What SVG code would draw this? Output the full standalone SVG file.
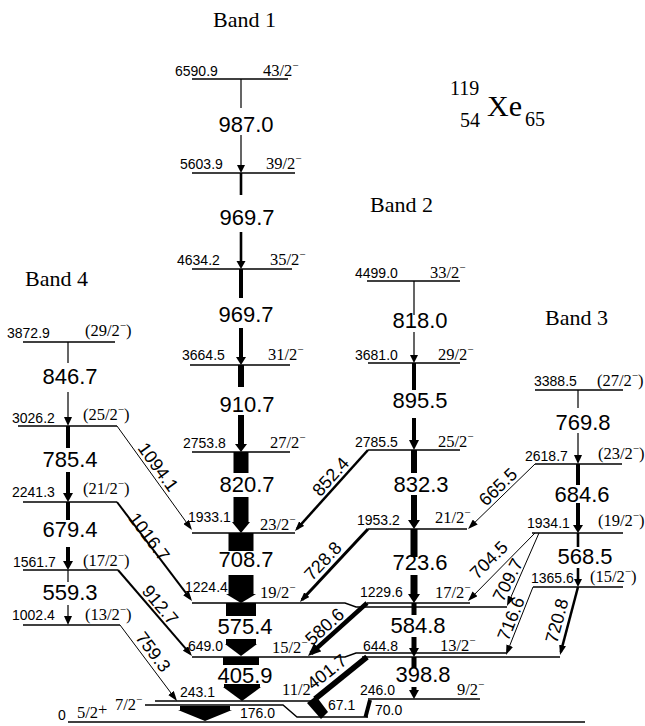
<svg xmlns="http://www.w3.org/2000/svg" width="645" height="726" viewBox="0 0 645 726">
<style>
.lv{stroke:#000;stroke-width:1.4;fill:none}
.tl{stroke:#000;fill:none}
.b{fill:#000}
.en{font-family:"Liberation Sans",Arial,sans-serif;font-size:14px;fill:#000}
.sp{font-family:"Liberation Serif","Times New Roman",serif;font-size:16.5px;fill:#000}
.m{font-size:11px}
.tr{font-family:"Liberation Sans",Arial,sans-serif;font-size:22px;fill:#000;text-anchor:middle}
.rl{font-family:"Liberation Sans",Arial,sans-serif;font-size:18px;fill:#000;text-anchor:middle}
.band{font-family:"Liberation Serif","Times New Roman",serif;font-size:22px;fill:#000}
.iso{font-family:"Liberation Serif","Times New Roman",serif;fill:#000}
</style>
<defs>
<marker id="ah" markerUnits="userSpaceOnUse" markerWidth="10" markerHeight="7" refX="7" refY="3.5" orient="auto"><path d="M0,0 L10,3.5 L0,7 z" fill="#000"/></marker>
<marker id="ahL" markerUnits="userSpaceOnUse" markerWidth="13" markerHeight="11" refX="9" refY="5.5" orient="auto"><path d="M0,0 L13,5.5 L0,11 z" fill="#000"/></marker>
</defs>
<rect width="645" height="726" fill="#fff"/>

<!-- titles -->
<text class="band" x="213" y="27">Band 1</text>
<text class="band" x="370" y="212">Band 2</text>
<text class="band" x="545" y="325">Band 3</text>
<text class="band" x="25" y="286">Band 4</text>
<g id="nucleus">
<text class="iso" x="450" y="95" font-size="20">119</text>
<text class="iso" x="460" y="127" font-size="20">54</text>
<text class="iso" x="487" y="116" font-size="30">Xe</text>
<text class="iso" x="525" y="126" font-size="20">65</text>
</g>

<!-- Band 1 levels -->
<g id="L6590"><line class="lv" x1="192" y1="79" x2="288" y2="79"/><text class="en" x="175" y="76">6590.9</text><text class="sp" x="263" y="76">43/2<tspan class="m" dy="-7">−</tspan></text></g>
<g id="L5603"><line class="lv" x1="192" y1="173" x2="295" y2="173"/><text class="en" x="180" y="169">5603.9</text><text class="sp" x="266" y="169">39/2<tspan class="m" dy="-7">−</tspan></text></g>
<g id="L4634"><line class="lv" x1="192" y1="269" x2="292" y2="269"/><text class="en" x="177" y="265">4634.2</text><text class="sp" x="270" y="265">35/2<tspan class="m" dy="-7">−</tspan></text></g>
<g id="L3664"><line class="lv" x1="190" y1="365" x2="290" y2="365"/><text class="en" x="182" y="360">3664.5</text><text class="sp" x="268" y="360">31/2<tspan class="m" dy="-7">−</tspan></text></g>
<g id="L2753"><line class="lv" x1="192" y1="452" x2="290" y2="452"/><text class="en" x="183" y="448">2753.8</text><text class="sp" x="270" y="448">27/2<tspan class="m" dy="-7">−</tspan></text></g>
<g id="L1933"><line class="lv" x1="192" y1="533" x2="295" y2="533"/><text class="en" x="188" y="522">1933.1</text><text class="sp" x="260" y="530">23/2<tspan class="m" dy="-7">−</tspan></text></g>
<g id="L1224"><polyline class="lv" points="192,603 345,603 356,607 507,607"/><text class="en" x="185" y="592">1224.4</text><text class="sp" x="260" y="598">19/2<tspan class="m" dy="-7">−</tspan></text></g>
<g id="L649"><polyline class="lv" points="192,657 345,657 356,653 506,653"/><text class="en" x="188" y="651">649.0</text><text class="sp" x="272" y="653">15/2<tspan class="m" dy="-7">−</tspan></text></g>
<g id="L243"><line class="lv" x1="155" y1="701" x2="314" y2="701"/><text class="en" x="180" y="697">243.1</text><text class="sp" x="282" y="695">11/2<tspan class="m" dy="-7">−</tspan></text></g>
<g id="L176"><polyline class="lv" points="145,705 283,705 297,717 368,717"/><text class="sp" x="115" y="710">7/2<tspan class="m" dy="-7">−</tspan></text></g>
<g id="L0"><line class="lv" x1="68" y1="722" x2="585" y2="722"/><text class="en" x="58" y="720" font-size="15">0</text><text class="sp" x="77" y="718">5/2<tspan dy="-3">+</tspan></text></g>

<!-- Band 2 levels -->
<g id="L4499"><line class="lv" x1="367" y1="281" x2="460" y2="281"/><text class="en" x="355" y="278">4499.0</text><text class="sp" x="430" y="278">33/2<tspan class="m" dy="-7">−</tspan></text></g>
<g id="L3681"><line class="lv" x1="368" y1="363" x2="460" y2="363"/><text class="en" x="355" y="360">3681.0</text><text class="sp" x="438" y="360">29/2<tspan class="m" dy="-7">−</tspan></text></g>
<g id="L2785"><line class="lv" x1="368" y1="450" x2="460" y2="450"/><text class="en" x="355" y="447">2785.5</text><text class="sp" x="438" y="447">25/2<tspan class="m" dy="-7">−</tspan></text></g>
<g id="L1953"><line class="lv" x1="368" y1="529" x2="467" y2="529"/><text class="en" x="357" y="525">1953.2</text><text class="sp" x="435" y="523">21/2<tspan class="m" dy="-7">−</tspan></text></g>
<g id="L1229"><line class="lv" x1="367" y1="603" x2="470" y2="603"/><text class="en" x="360" y="597">1229.6</text><text class="sp" x="435" y="598">17/2<tspan class="m" dy="-7">−</tspan></text></g>
<g id="L644"><line class="lv" x1="362" y1="657" x2="560" y2="657"/><text class="en" x="363" y="651">644.8</text><text class="sp" x="440" y="651">13/2<tspan class="m" dy="-7">−</tspan></text></g>
<g id="L246"><line class="lv" x1="368" y1="699" x2="480" y2="699"/><text class="en" x="360" y="695">246.0</text><text class="sp" x="457" y="695">9/2<tspan class="m" dy="-7">−</tspan></text></g>

<!-- Band 3 levels -->
<g id="L3388"><line class="lv" x1="535" y1="390" x2="623" y2="390"/><text class="en" x="534" y="386">3388.5</text><text class="sp" x="597" y="386">(27/2<tspan class="m" dy="-7">−</tspan><tspan dy="7">)</tspan></text></g>
<g id="L2618"><line class="lv" x1="535" y1="464" x2="622" y2="464"/><text class="en" x="525" y="461">2618.7</text><text class="sp" x="598" y="459">(23/2<tspan class="m" dy="-7">−</tspan><tspan dy="7">)</tspan></text></g>
<g id="L1934"><line class="lv" x1="532" y1="533" x2="623" y2="533"/><text class="en" x="527" y="528">1934.1</text><text class="sp" x="598" y="526">(19/2<tspan class="m" dy="-7">−</tspan><tspan dy="7">)</tspan></text></g>
<g id="L1365"><line class="lv" x1="533" y1="587" x2="623" y2="587"/><text class="en" x="531" y="583">1365.6</text><text class="sp" x="590" y="582">(15/2<tspan class="m" dy="-7">−</tspan><tspan dy="7">)</tspan></text></g>

<!-- Band 4 levels -->
<g id="L3872"><line class="lv" x1="23" y1="342" x2="115" y2="342"/><text class="en" x="7" y="338">3872.9</text><text class="sp" x="85" y="336">(29/2<tspan class="m" dy="-7">−</tspan><tspan dy="7">)</tspan></text></g>
<g id="L3026"><line class="lv" x1="18" y1="426" x2="117" y2="426"/><text class="en" x="12" y="423">3026.2</text><text class="sp" x="83" y="420">(25/2<tspan class="m" dy="-7">−</tspan><tspan dy="7">)</tspan></text></g>
<g id="L2241"><line class="lv" x1="23" y1="502" x2="117" y2="502"/><text class="en" x="12" y="497">2241.3</text><text class="sp" x="83" y="494">(21/2<tspan class="m" dy="-7">−</tspan><tspan dy="7">)</tspan></text></g>
<g id="L1561"><line class="lv" x1="23" y1="570" x2="118" y2="570"/><text class="en" x="13" y="567">1561.7</text><text class="sp" x="83" y="566">(17/2<tspan class="m" dy="-7">−</tspan><tspan dy="7">)</tspan></text></g>
<g id="L1002"><line class="lv" x1="23" y1="625" x2="120" y2="625"/><text class="en" x="12" y="620">1002.4</text><text class="sp" x="85" y="620">(13/2<tspan class="m" dy="-7">−</tspan><tspan dy="7">)</tspan></text></g>

<!-- connectors -->
<g id="connectors">
<!-- Band 1 -->
<rect class="b" x="240.4" y="79" width="1.2" height="29"/><rect class="b" x="240.4" y="135" width="1.2" height="31"/><polygon class="b" points="237,165 245,165 241,173"/>
<rect class="b" x="239.7" y="173" width="2.6" height="22"/><rect class="b" x="239.7" y="232" width="2.6" height="30"/><polygon class="b" points="236.5,261 245.5,261 241,269"/>
<rect class="b" x="239" y="269" width="4" height="29"/><rect class="b" x="239" y="328" width="4" height="30"/><polygon class="b" points="236,357 246,357 241,365"/>
<rect class="b" x="238" y="365" width="6" height="22"/><rect class="b" x="238" y="415" width="6" height="30"/><polygon class="b" points="235,444 247,444 241,452"/>
<rect class="b" x="233.5" y="452" width="15" height="21"/><rect class="b" x="233.5" y="497" width="15" height="26"/><polygon class="b" points="232,522 250,522 241,533"/>
<rect class="b" x="228.5" y="533" width="25" height="18"/><rect class="b" x="228.5" y="575" width="25" height="20"/><polygon class="b" points="226,594 256,594 241,603"/>
<rect class="b" x="226" y="603" width="30" height="13"/><rect class="b" x="226" y="639" width="30" height="6"/><polygon class="b" points="225,644 257,644 241,656"/>
<rect class="b" x="223" y="657" width="36" height="8"/><rect class="b" x="224" y="684" width="36" height="4"/><polygon class="b" points="223,687 261,687 242,701"/>
<polygon class="b" points="180,706 230,706 230,710 232,710 205,721 178,710 180,710"/>
<text class="tr" x="246" y="132">987.0</text>
<text class="tr" x="247" y="225">969.7</text>
<text class="tr" x="246" y="322">969.7</text>
<text class="tr" x="247" y="412">910.7</text>
<text class="tr" x="247" y="492">820.7</text>
<text class="tr" x="246" y="567">708.7</text>
<text class="tr" x="245" y="634">575.4</text>
<text class="tr" x="245" y="683">405.9</text>
<text class="en" x="240" y="718" font-size="17">176.0</text>

<!-- Band 2 -->
<rect class="b" x="413.4" y="281" width="1.2" height="34"/><rect class="b" x="413.4" y="332" width="1.2" height="24"/><polygon class="b" points="410,355 418,355 414,363"/>
<rect class="b" x="412" y="363" width="4" height="27"/><rect class="b" x="412" y="418" width="4" height="23"/><polygon class="b" points="409,440 419,440 414,450"/>
<rect class="b" x="411" y="450" width="6" height="23"/><rect class="b" x="411" y="495" width="6" height="26"/><polygon class="b" points="408,520 420,520 414,529"/>
<rect class="b" x="410.5" y="529" width="7" height="28"/><rect class="b" x="410.5" y="575" width="7" height="20"/><polygon class="b" points="408,594 420,594 414,603"/>
<rect class="b" x="411.5" y="603" width="5" height="12"/><rect class="b" x="411.5" y="637" width="5" height="12"/><polygon class="b" points="409,648 419,648 414,657"/>
<rect class="b" x="411.5" y="657" width="5" height="11"/><rect class="b" x="411.5" y="687" width="5" height="4"/><polygon class="b" points="409,690 419,690 414,699"/>
<text class="tr" x="420" y="328">818.0</text>
<text class="tr" x="420" y="408">895.5</text>
<text class="tr" x="421" y="492">832.3</text>
<text class="tr" x="420" y="570">723.6</text>
<text class="tr" x="418" y="633">584.8</text>
<text class="tr" x="423" y="682">398.8</text>

<!-- Band 3 -->
<rect class="b" x="577.4" y="390" width="1.2" height="18"/><rect class="b" x="577.4" y="433" width="1.2" height="23"/><polygon class="b" points="574,455 582,455 578,464"/>
<rect class="b" x="576" y="464" width="4" height="21"/><rect class="b" x="576" y="503" width="4" height="23"/><polygon class="b" points="573,525 583,525 578,533"/>
<rect class="b" x="576.7" y="533" width="2.6" height="14"/><rect class="b" x="576.7" y="568" width="2.6" height="12"/><polygon class="b" points="574,579 582,579 578,587"/>
<text class="tr" x="583" y="430">769.8</text>
<text class="tr" x="582" y="502">684.6</text>
<text class="tr" x="585" y="564">568.5</text>

<!-- Band 4 -->
<rect class="b" x="67.4" y="342" width="1.2" height="21"/><rect class="b" x="67.4" y="392" width="1.2" height="26"/><polygon class="b" points="64,417 72,417 68,426"/>
<rect class="b" x="66" y="426" width="4" height="22"/><rect class="b" x="66" y="472" width="4" height="22"/><polygon class="b" points="63,493 73,493 68,502"/>
<rect class="b" x="66" y="502" width="4" height="18"/><rect class="b" x="66" y="547" width="4" height="15"/><polygon class="b" points="63,561 73,561 68,570"/>
<rect class="b" x="67.4" y="570" width="1.2" height="12"/><rect class="b" x="67.4" y="605" width="1.2" height="12"/><polygon class="b" points="64,616 72,616 68,625"/>
<text class="tr" x="70" y="384">846.7</text>
<text class="tr" x="70" y="467">785.4</text>
<text class="tr" x="70" y="537">679.4</text>
<text class="tr" x="70" y="600">559.3</text>

<!-- inter-band -->
<line class="tl" stroke-width="1" x1="117" y1="426" x2="190.2" y2="527.6" marker-end="url(#ah)"/>
<line class="tl" stroke-width="2" x1="117" y1="502" x2="190.2" y2="598.6" marker-end="url(#ah)"/>
<line class="tl" stroke-width="2" x1="118" y1="570" x2="190" y2="653.7" marker-end="url(#ah)"/>
<line class="tl" stroke-width="1" x1="120" y1="625" x2="175.2" y2="698.6" marker-end="url(#ah)"/>
<line class="tl" stroke-width="2.5" x1="368" y1="450" x2="297" y2="528.8" marker-end="url(#ah)"/>
<line class="tl" stroke-width="3" x1="368" y1="529" x2="302" y2="599.8" marker-end="url(#ah)"/>
<line class="tl" stroke-width="4.5" x1="367" y1="603" x2="311" y2="653.3" marker-end="url(#ahL)"/>
<line class="tl" stroke-width="5.5" x1="367" y1="657" x2="315" y2="699"/>
<polygon class="b" points="307,703 316,696 328,712 321,719"/>
<line class="tl" stroke-width="4" x1="370" y1="700" x2="365.5" y2="717"/>
<line class="tl" stroke-width="1" x1="535" y1="464" x2="470.2" y2="526.9" marker-end="url(#ah)"/>
<line class="tl" stroke-width="1" x1="535" y1="533" x2="470.1" y2="598.9" marker-end="url(#ah)"/>
<line class="tl" stroke-width="1" x1="539" y1="533" x2="508.2" y2="603.3" marker-end="url(#ah)"/>
<line class="tl" stroke-width="1" x1="533" y1="587" x2="507.1" y2="652.2" marker-end="url(#ah)"/>
<line class="tl" stroke-width="2.5" x1="578" y1="587" x2="560.8" y2="652.1" marker-end="url(#ah)"/>

<text class="rl" font-size="17" transform="translate(158,467) rotate(54)" y="6">1094.1</text>
<text class="rl" font-size="17" transform="translate(149,537) rotate(53)" y="6">1016.7</text>
<text class="rl" font-size="17" transform="translate(160,605) rotate(50)" y="6">912.7</text>
<text class="rl" font-size="17" transform="translate(153,652) rotate(53)" y="6">759.3</text>
<text class="rl" font-size="20" transform="translate(330,476) rotate(-48)" y="7">852.4</text>
<text class="rl" font-size="18" transform="translate(323,561) rotate(-47)" y="6">728.8</text>
<text class="rl" font-size="19" transform="translate(324,626) rotate(-42)" y="7">580.6</text>
<text class="rl" font-size="16" transform="translate(327,672) rotate(-38)" y="6">401.7</text>
<text class="rl" font-size="17" transform="translate(498,487) rotate(-44)" y="6">665.5</text>
<text class="rl" font-size="17" transform="translate(489,560) rotate(-45)" y="6">704.5</text>
<text class="rl" font-size="16" transform="translate(508,580) rotate(-63)" y="6">709.7</text>
<text class="rl" font-size="15" transform="translate(512,619) rotate(-68)" y="5">716.6</text>
<text class="rl" font-size="15" transform="translate(558,621) rotate(-75)" y="5">720.8</text>
<text class="en" x="328" y="710" font-size="15">67.1</text>
<text class="en" x="375" y="715" font-size="17">70.0</text>
</g>
</svg>
